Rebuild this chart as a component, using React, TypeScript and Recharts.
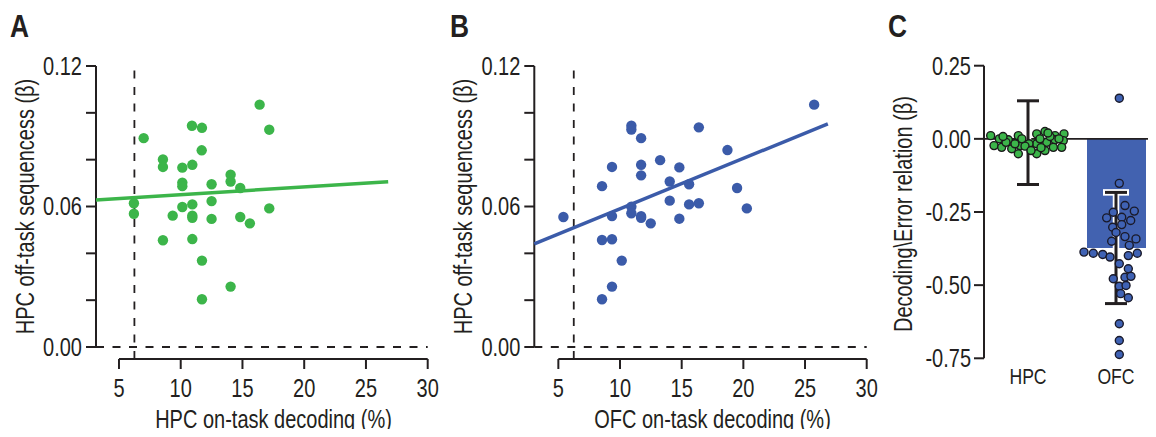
import React from 'react';
import {
  ScatterChart, Scatter, XAxis, YAxis, ReferenceLine, Label,
  ComposedChart, Bar, Cell, ErrorBar,
} from 'recharts';

// ---------- data ----------
// Panel A: HPC on-task decoding (%) vs HPC off-task sequenceness (beta)
const hpcOnTask = [16.39, 10.91, 11.72, 17.17, 7.0, 11.7, 8.56, 8.56, 10.13, 10.94, 14.04, 14.04, 10.13, 10.13, 12.5, 14.82, 6.21, 6.21, 12.5, 10.94, 10.13, 17.17, 9.35, 10.94, 10.94, 12.5, 14.82, 15.6, 8.56, 10.94, 11.72, 14.04, 11.72];
const hpcOffTaskA = [0.1035, 0.0945, 0.0936, 0.0928, 0.0892, 0.084, 0.0801, 0.0769, 0.0766, 0.0778, 0.0736, 0.0707, 0.0702, 0.0687, 0.0695, 0.0679, 0.0614, 0.0569, 0.0623, 0.0609, 0.0598, 0.0592, 0.0561, 0.0561, 0.0552, 0.0547, 0.0555, 0.0528, 0.0456, 0.0461, 0.0369, 0.0258, 0.0204];
const fitAx = [3.14, 26.8];
const fitAy = [0.0628, 0.0706];

// Panel B: OFC on-task decoding (%) vs HPC off-task sequenceness (beta)
const ofcOnTask = [25.74, 10.92, 10.92, 16.39, 11.71, 18.71, 13.25, 9.35, 11.71, 14.81, 11.71, 8.54, 14.03, 15.6, 19.49, 14.03, 15.6, 16.39, 20.28, 10.92, 10.92, 5.41, 9.35, 11.71, 11.71, 12.49, 14.81, 8.54, 9.35, 10.14, 9.35, 8.54];
const hpcOffTaskB = [0.1035, 0.0945, 0.0929, 0.0938, 0.0892, 0.0841, 0.0798, 0.0769, 0.0778, 0.0767, 0.0733, 0.0687, 0.0707, 0.0695, 0.0679, 0.0625, 0.0609, 0.0614, 0.0592, 0.0599, 0.0571, 0.0555, 0.0559, 0.0559, 0.0552, 0.0528, 0.0548, 0.0457, 0.046, 0.0369, 0.0258, 0.0204];
const fitBx = [3.05, 26.85];
const fitBy = [0.044, 0.0953];

const chanceLevel = 6.25;
const scatterXTicks = [5, 10, 15, 20, 25, 30];
const scatterYTicks = [0, 0.02, 0.04, 0.06, 0.08, 0.1, 0.12];
const scatterYLabeled = [0, 0.06, 0.12];

// Panel C: decoding / error relation
const regions = ['HPC', 'OFC'];
const regionMeans = [-0.013, -0.373];
const regionErr = [0.143, 0.19];
const regionPos = [0.5, 1.5];
const hpcSwarmX = [0.076, 0.174, 0.276, 0.39, 0.114, 0.201, 0.315, 0.409, 0.39, 0.599, 0.693, 0.807, 0.909, 0.599, 0.713, 0.807, 0.901, 0.599, 0.693, 0.788, 0.883, 0.352, 0.636, 0.511, 0.25, 0.466, 0.75, 0.648, 0.852, 0.534, 0.43, 0.727, 0.216];
const hpcSwarmY = [0.011, 0, -0.003, 0.011, -0.023, -0.029, -0.034, -0.023, -0.051, 0.017, 0.025, 0.011, 0.017, -0.017, -0.012, -0.003, -0.006, -0.051, -0.04, -0.029, -0.029, -0.017, 0, -0.017, -0.012, -0.025, 0.008, -0.03, 0, -0.04, 0, 0.02, 0.008];
const ofcSwarmX = [1.5375, 1.5375, 1.602, 1.708, 1.469, 1.394, 1.565, 1.667, 1.4625, 1.565, 1.727, 1.602, 1.451, 1.651, 1.136, 1.242, 1.349, 1.432, 1.64, 1.742, 1.5375, 1.64, 1.469, 1.602, 1.5375, 1.614, 1.553, 1.64, 1.5375, 1.5375, 1.5375, 1.5, 1.67];
const ofcSwarmY = [0.139, -0.152, -0.228, -0.247, -0.251, -0.27, -0.268, -0.279, -0.302, -0.293, -0.342, -0.334, -0.35, -0.364, -0.387, -0.391, -0.395, -0.404, -0.399, -0.391, -0.427, -0.444, -0.478, -0.473, -0.504, -0.501, -0.529, -0.543, -0.632, -0.689, -0.737, -0.32, -0.47];
const cTicks = [0.25, 0, -0.25, -0.5, -0.75];

// ---------- styles ----------
const FONT = '"Liberation Sans", Arimo, Arial, sans-serif';
const SX = 0.8; // horizontal compression to mimic a condensed face
const FS = 25;
const INK = '#231f20';
const GREEN = '#3cb54a';
const BLUE = '#3b5ba9';
const BAR_BLUE = '#4262b0';
const DOT_BLUE = '#3f62b4';
const DASH = '8 8.5';

const pointsA = hpcOnTask.map((x, i) => ({ x, y: hpcOffTaskA[i] }));
const pointsB = ofcOnTask.map((x, i) => ({ x, y: hpcOffTaskB[i] }));
const barData = regions.map((name, i) => ({ name, mean: regionMeans[i] }));
const errData = regions.map((name, i) => ({ x: regionPos[i], y: regionMeans[i], err: regionErr[i] }));
const hpcSwarm = hpcSwarmX.map((x, i) => ({ x, y: hpcSwarmY[i] }));
const ofcSwarm = ofcSwarmX.map((x, i) => ({ x, y: ofcSwarmY[i] }));

function NText(props: { x: number; y: number; anchor: string; size: number; rotate?: boolean; children: any }) {
  const { x, y, anchor, size, rotate, children } = props;
  return (
    <g transform={`translate(${x} ${y})${rotate ? ' rotate(-90)' : ''} scale(${SX} 1)`}>
      <text x={0} y={0} textAnchor={anchor as any} fontFamily={FONT} fontSize={size} fill={INK}>
        {children}
      </text>
    </g>
  );
}

const yTick = (fmt: (v: number) => string, size: number) => (p: any) => {
  const s = fmt(p.payload.value);
  if (!s) return <g />;
  return <NText x={p.x} y={p.y + 0.355 * size} anchor="end" size={size}>{s}</NText>;
};
const xTick = (size: number) => (p: any) => (
  <NText x={p.x} y={p.y + 0.71 * size} anchor="middle" size={size}>{String(p.payload.value)}</NText>
);

const titleContent = (text: string, x: number, y: number, rotate: boolean) => () => (
  <NText x={x} y={y} anchor="middle" size={FS} rotate={rotate}>{text}</NText>
);

function PanelLetter({ letter, left }: { letter: string; left: number }) {
  return (
    <div
      style={{
        position: 'absolute', left, top: 11, fontFamily: FONT, fontWeight: 'bold',
        fontSize: 31, lineHeight: '31px', color: INK, transform: 'scaleX(0.85)', transformOrigin: 'left top',
      }}
    >
      {letter}
    </div>
  );
}

function ScatterPanel(props: {
  points: { x: number; y: number }[];
  fitX: number[];
  fitY: number[];
  xMin: number;
  color: string;
  width: number;
  marginLeft: number;
  marginRight: number;
  xTitle: string;
  xTitleX: number;
  yTitleX: number;
}) {
  const { points, fitX, fitY, xMin, color, width, marginLeft, marginRight, xTitle, xTitleX, yTitleX } = props;
  const yMin = -0.00512;
  const yMax = 0.12;
  return (
    <ScatterChart width={width} height={437} margin={{ top: 66, right: marginRight, bottom: 0, left: marginLeft }}>
      <XAxis
        type="number"
        dataKey="x"
        domain={[xMin, 30]}
        ticks={scatterXTicks}
        interval={0}
        axisLine={false}
        tickLine={{ stroke: INK, strokeWidth: 2 }}
        tickSize={10}
        tickMargin={10}
        height={78}
        tick={xTick(FS)}
      >
        <Label content={titleContent(xTitle, xTitleX, 428, false)} />
      </XAxis>
      <YAxis
        type="number"
        dataKey="y"
        domain={[yMin, yMax]}
        ticks={scatterYTicks}
        interval={0}
        axisLine={false}
        tickLine={{ stroke: INK, strokeWidth: 2 }}
        tickSize={10}
        tickMargin={4}
        width={70}
        tick={yTick((v: number) => (scatterYLabeled.includes(v) ? v.toFixed(2) : ''), FS)}
      >
        <Label content={titleContent('HPC off-task sequencess (\u03b2)', yTitleX, 206.5, true)} />
      </YAxis>
      {/* axis lines */}
      <ReferenceLine segment={[{ x: xMin, y: 0 }, { x: xMin, y: yMax }]} stroke={INK} strokeWidth={2} ifOverflow="visible" />
      <ReferenceLine segment={[{ x: 5, y: yMin }, { x: 30, y: yMin }]} stroke={INK} strokeWidth={2} ifOverflow="visible" />
      {/* dashed guides */}
      <ReferenceLine segment={[{ x: xMin, y: 0 }, { x: 30, y: 0 }]} stroke={INK} strokeWidth={1.8} strokeDasharray={DASH} ifOverflow="visible" />
      <ReferenceLine segment={[{ x: chanceLevel, y: yMin }, { x: chanceLevel, y: yMax }]} stroke={INK} strokeWidth={1.8} strokeDasharray={DASH} ifOverflow="visible" />
      {/* regression line */}
      <ReferenceLine segment={[{ x: fitX[0], y: fitY[0] }, { x: fitX[1], y: fitY[1] }]} stroke={color} strokeWidth={3.5} ifOverflow="visible" />
      <Scatter
        data={points}
        isAnimationActive={false}
        shape={(p: any) => <circle cx={p.cx} cy={p.cy} r={5.2} fill={color} />}
      />
    </ScatterChart>
  );
}

function PanelC() {
  return (
    <ComposedChart width={300} height={437} data={barData} margin={{ top: 65.7, right: 0, bottom: 0, left: 54 }}>
      <XAxis
        dataKey="name"
        type="category"
        axisLine={false}
        tickLine={false}
        tickSize={0}
        tickMargin={10}
        height={78.7}
        tick={xTick(22)}
      />
      <XAxis xAxisId="n" type="number" dataKey="x" domain={[0, 2]} hide />
      <YAxis
        type="number"
        domain={[-0.75, 0.25]}
        ticks={cTicks}
        interval={0}
        axisLine={{ stroke: INK, strokeWidth: 2 }}
        tickLine={{ stroke: INK, strokeWidth: 2 }}
        tickSize={10}
        tickMargin={3}
        width={70}
        tick={yTick((v: number) => v.toFixed(2), FS)}
      >
        <Label content={titleContent('Decoding\\Error relation (\u03b2)', 51.5, 214, true)} />
      </YAxis>
      <Bar dataKey="mean" barSize={59} isAnimationActive={false}>
        {barData.map((d, i) => (
          <Cell key={d.name} fill={i === 0 ? GREEN : BAR_BLUE} />
        ))}
      </Bar>
      <ReferenceLine y={0} stroke={INK} strokeWidth={1.6} ifOverflow="visible" />
      <Scatter
        xAxisId="n"
        data={hpcSwarm}
        dataKey="y"
        isAnimationActive={false}
        shape={(p: any) => <circle cx={p.cx} cy={p.cy} r={4} fill={GREEN} stroke="#1a1a1a" strokeWidth={1.4} />}
      />
      <Scatter
        xAxisId="n"
        data={ofcSwarm}
        dataKey="y"
        isAnimationActive={false}
        shape={(p: any) => <circle cx={p.cx} cy={p.cy} r={4} fill={DOT_BLUE} stroke="#1a1a2a" strokeWidth={1.4} />}
      />
      <Scatter
        xAxisId="n"
        data={errData}
        dataKey="y"
        isAnimationActive={false}
        shape={() => <g />}
      >
        <ErrorBar dataKey="err" direction="y" width={13} stroke="#ffffff" strokeWidth={6.5} />
        <ErrorBar dataKey="err" direction="y" width={11} stroke={INK} strokeWidth={3} />
      </Scatter>
    </ComposedChart>
  );
}

export default function App() {
  return (
    <div style={{ position: 'relative', width: 1156, height: 437, margin: -8, overflow: 'hidden', background: '#fff' }}>
      <div style={{ position: 'absolute', left: 0, top: 0 }}>
        <ScatterPanel
          points={pointsA}
          fitX={fitAx}
          fitY={fitAy}
          xMin={3.14}
          color={GREEN}
          width={440}
          marginLeft={26}
          marginRight={12.3}
          xTitle="HPC on-task decoding (%)"
          xTitleX={273.5}
          yTitleX={33.5}
        />
      </div>
      <div style={{ position: 'absolute', left: 430, top: 0 }}>
        <ScatterPanel
          points={pointsB}
          fitX={fitBx}
          fitY={fitBy}
          xMin={3.05}
          color={BLUE}
          width={450}
          marginLeft={34.3}
          marginRight={13.3}
          xTitle="OFC on-task decoding (%)"
          xTitleX={282.5}
          yTitleX={42}
        />
      </div>
      <div style={{ position: 'absolute', left: 860, top: 0 }}>
        <PanelC />
      </div>
      <PanelLetter letter="A" left={10} />
      <PanelLetter letter="B" left={450} />
      <PanelLetter letter="C" left={888} />
    </div>
  );
}
